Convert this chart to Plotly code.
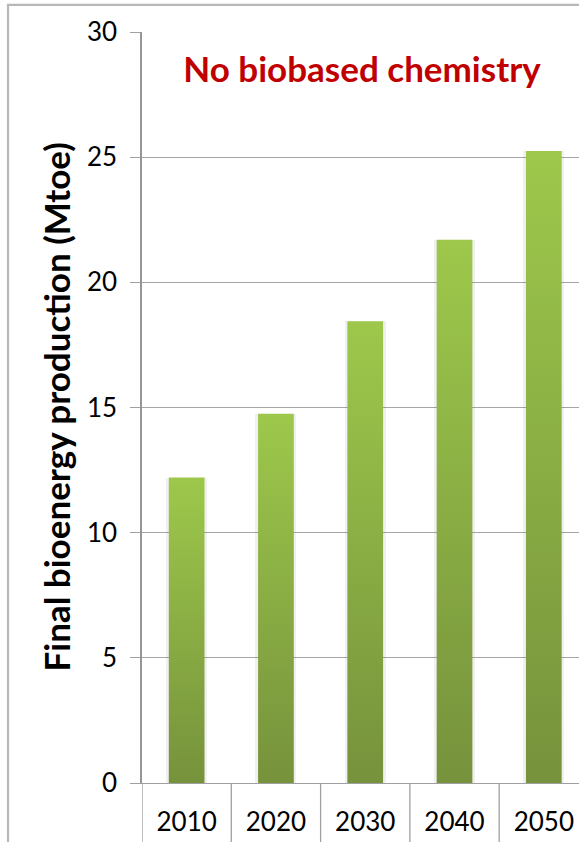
import plotly.graph_objects as go

# Final bioenergy production by year, scenario without biobased chemistry
years = ["2010", "2020", "2030", "2040", "2050"]
production_mtoe = [12.2, 14.75, 18.45, 21.7, 25.25]
y_ticks = [0, 5, 10, 15, 20, 25, 30]

FONT = "Lato"
BAR_W = 0.40
X_RANGE = [-0.5, 4.394]

fig = go.Figure()

# soft shadow behind each column (also defines the category axis)
fig.add_trace(go.Bar(
    x=years, y=production_mtoe, width=BAR_W + 0.06,
    marker=dict(color="rgba(0,0,0,0.06)", line=dict(width=0)),
    hoverinfo="skip", showlegend=False,
))

# gradient-filled columns, drawn on an overlaid numeric axis
for i, (yr, v) in enumerate(zip(years, production_mtoe)):
    x0, x1 = i - BAR_W / 2, i + BAR_W / 2
    fig.add_trace(go.Scatter(
        x=[x0, x1, x1, x0, x0], y=[0, 0, v, v, 0],
        xaxis="x2", mode="lines", line=dict(width=0),
        fill="toself",
        fillgradient=dict(type="vertical",
                          colorscale=[[0, "#76923C"], [1, "#9DC84B"]]),
        name=yr, hoverinfo="skip", showlegend=False,
    ))

# vertical separators between category labels
for i in range(len(years)):
    fig.add_shape(type="line", xref="x", yref="paper",
                  x0=i - 0.5, x1=i - 0.5, y0=-0.1, y1=0,
                  line=dict(color="#A0A0A0", width=1.3))

# outer chart border
fig.add_shape(type="rect", xref="paper", yref="paper",
              x0=-0.3066, x1=1.2, y0=-0.2, y1=1.036,
              line=dict(color="#B8B8B8", width=2.2), fillcolor="rgba(0,0,0,0)")

fig.add_annotation(
    text="<b>Final bioenergy production (Mtoe)</b>", textangle=-90,
    xref="paper", yref="paper", x=(55 - 142) / 437, y=0.5,
    xanchor="center", yanchor="middle", showarrow=False,
    font=dict(family=FONT, size=35, color="#000000"),
)

fig.update_layout(
    width=579, height=842,
    margin=dict(l=142, r=0, t=32, b=59),
    paper_bgcolor="white", plot_bgcolor="white",
    title=dict(text="<b>No biobased chemistry</b>",
               x=362 / 579, xanchor="center", xref="container",
               y=1 - 70 / 842, yanchor="middle", yref="container",
               font=dict(family=FONT, size=35, color="#C00000")),
    xaxis=dict(type="category", categoryorder="array", categoryarray=years,
               range=X_RANGE, showgrid=False, ticks="",
               showline=True, linecolor="#A0A0A0", linewidth=1.3,
               tickfont=dict(family=FONT, size=26, color="#000000"),
               ticklabelstandoff=16),
    xaxis2=dict(overlaying="x", range=X_RANGE, visible=False),
    yaxis=dict(range=[0, 30], tickvals=y_ticks, ticktext=[str(t) for t in y_ticks],
               showgrid=True, gridcolor="#A6A6A6", gridwidth=1.3,
               zeroline=False, showline=True, linecolor="#969696", linewidth=1.5,
               ticks="outside", ticklen=10, tickcolor="#A0A0A0", tickwidth=1.3,
               tickfont=dict(family=FONT, size=26, color="#000000"),
               ticklabelstandoff=8),
    bargap=0,
)

fig.write_html("out.html")
